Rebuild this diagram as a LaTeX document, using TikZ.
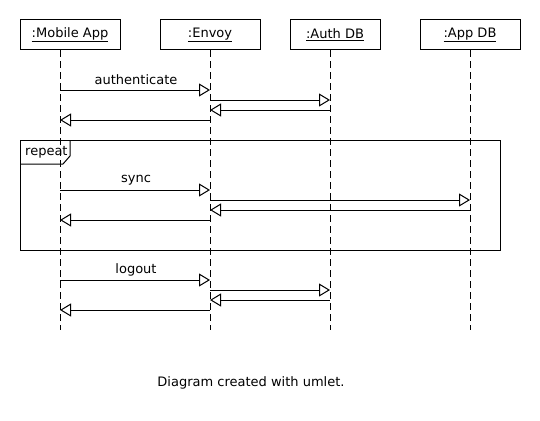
\documentclass[tikz,border=0pt]{standalone}
\usepackage{fontspec}
\setmainfont{DejaVu Sans}
\usetikzlibrary{arrows.meta}
\begin{document}
\begin{tikzpicture}[
        x=1pt, y=-1pt,
        every node/.style={font=\fontsize{13}{15}\selectfont},
        actor/.style={draw, line width=1pt, minimum height=30pt, inner sep=0pt},
        lifeline/.style={line width=1pt, dash pattern=on 7pt off 4pt},
        msg/.style={line width=1pt, -{Triangle[open, length=11pt, width=13pt]}},
        frame/.style={draw, line width=1pt}
    ]
        \useasboundingbox (0,0) rectangle (540,420);

        % participants
        \node[actor, minimum width=100pt] (mobile) at (70,35) {\underline{:Mobile App}};
        \node[actor, minimum width=100pt] (envoy) at (210,35) {\underline{:Envoy}};
        \node[actor, minimum width=90pt] (authdb) at (335,35) {\underline{:Auth DB}};
        \node[actor, minimum width=100pt] (appdb) at (470,35) {\underline{:App DB}};

        % lifelines
        \foreach \name/\x in {mob/60, env/210, auth/330, app/470} {
            \coordinate (\name-top) at (\x,50);
            \coordinate (\name-end) at (\x,330);
            \draw[lifeline] (\name-top) -- (\name-end);
        }

        % repeat fragment
        \draw[frame] (20,140) rectangle (500,250);
        \draw[frame] (20,164) -- (63,164) -- (70,156) -- (70,140);
        \node[anchor=west, inner sep=0pt] (repeat) at (25,152) {repeat};

        % messages
        \foreach \y/\src/\dst in {
            90/mob/env, 100/env/auth, 110/auth/env, 120/env/mob,
            190/mob/env, 200/env/app, 210/app/env, 220/env/mob,
            280/mob/env, 290/env/auth, 300/auth/env, 310/env/mob} {
            \draw[msg] (\src-top |- 0,\y) -- (\dst-top |- 0,\y);
        }

        % message labels
        \node (lbl-auth) at (136,80) {authenticate};
        \node (lbl-sync) at (136,180) {sync};
        \node (lbl-logout) at (136,270) {logout};

        \node (caption) at (251,383) {Diagram created with umlet.};
    \end{tikzpicture}
\end{document}
